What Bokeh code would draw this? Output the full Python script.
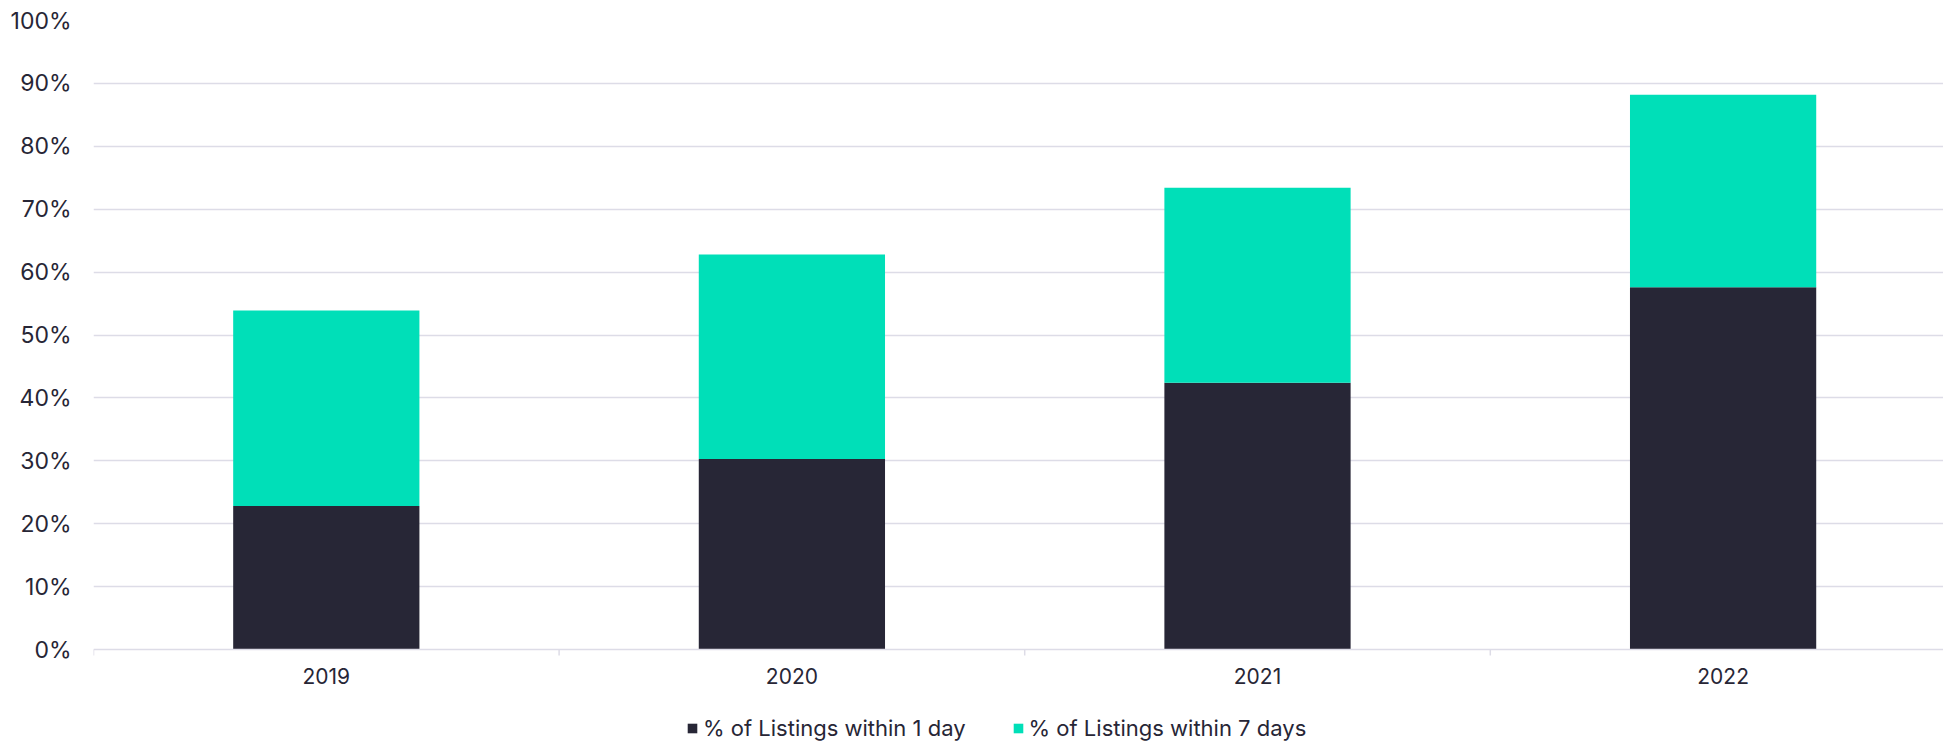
from bokeh.plotting import figure
from bokeh.models import Range1d, FixedTicker, Legend, LegendItem, ColumnDataSource, Span
from bokeh.core.properties import value
from bokeh.embed import file_html
from bokeh.resources import INLINE

years = ["2019", "2020", "2021", "2022"]
within_1_day = [22.8, 30.3, 42.4, 57.6]
within_7_days = [53.9, 62.8, 73.4, 88.2]
y_ticks = [0, 10, 20, 30, 40, 50, 60, 70, 80, 90, 100]

DARK = "#272636"
TEAL = "#00dfb8"
GRID = "#dddce7"
TXT = "#272636"

xs = [i + 0.5 for i in range(len(years))]
bounds = list(range(len(years) + 1))
src = ColumnDataSource(dict(x=xs, year=years, d1=within_1_day, d7=within_7_days))

# frame: top at 20px, value 0 at 649px, frame runs to bottom of page (741px)
px_per_unit = 629 / 100
y_start = -(741 - 649) / px_per_unit

p = figure(width=1943, height=741, output_backend="svg", toolbar_location=None,
           x_range=Range1d(0, 1850 / 465.6), y_range=Range1d(y_start, 100),
           min_border_left=93, min_border_right=0, min_border_top=20, min_border_bottom=0)
p.outline_line_color = None
p.xaxis.visible = False

r1 = p.vbar(x="x", bottom=0, top="d1", width=0.4, source=src, fill_color=DARK, line_color=None)
r7 = p.vbar(x="x", bottom="d1", top="d7", width=0.4, source=src, fill_color=TEAL, line_color=None)

# y axis
p.yaxis.ticker = FixedTicker(ticks=y_ticks)
p.yaxis.major_label_overrides = {t: f"{t}%" for t in y_ticks}
p.yaxis.axis_line_color = None
p.yaxis.major_tick_line_color = None
p.yaxis.minor_tick_line_color = None
p.yaxis.major_label_standoff = 16
p.yaxis.major_label_text_font = "Inter"
p.yaxis.major_label_text_font_size = "23px"
p.yaxis.major_label_text_color = TXT

p.ygrid.ticker = FixedTicker(ticks=y_ticks[1:])
p.ygrid.grid_line_color = GRID
p.ygrid.grid_line_width = 1.5
p.xgrid.grid_line_color = None

# category axis: base line, boundary ticks, year labels
p.add_layout(Span(location=0, dimension="width", line_color=GRID, line_width=1.5))
p.segment(x0=bounds, y0=[0] * len(bounds), x1=bounds, y1=[-6 / px_per_unit] * len(bounds),
          line_color=GRID, line_width=1.5)
p.text(x="x", y=0, text="year", source=src, y_offset=26, text_align="center",
       text_baseline="middle", text_font=value("Inter"), text_font_size="21px",
       text_color=TXT)

legend = Legend(items=[LegendItem(label="% of Listings within 1 day", renderers=[r1]),
                       LegendItem(label="% of Listings within 7 days", renderers=[r7])],
                orientation="horizontal", location=(593, 0),
                glyph_width=12, glyph_height=12, label_standoff=5, spacing=46,
                padding=2, margin=0, border_line_color=None, background_fill_alpha=0,
                label_text_font="Inter", label_text_font_size="22px", label_text_color=TXT,
                label_height=20)
p.add_layout(legend, "center")

open("out.html", "w").write(file_html(p, INLINE))
